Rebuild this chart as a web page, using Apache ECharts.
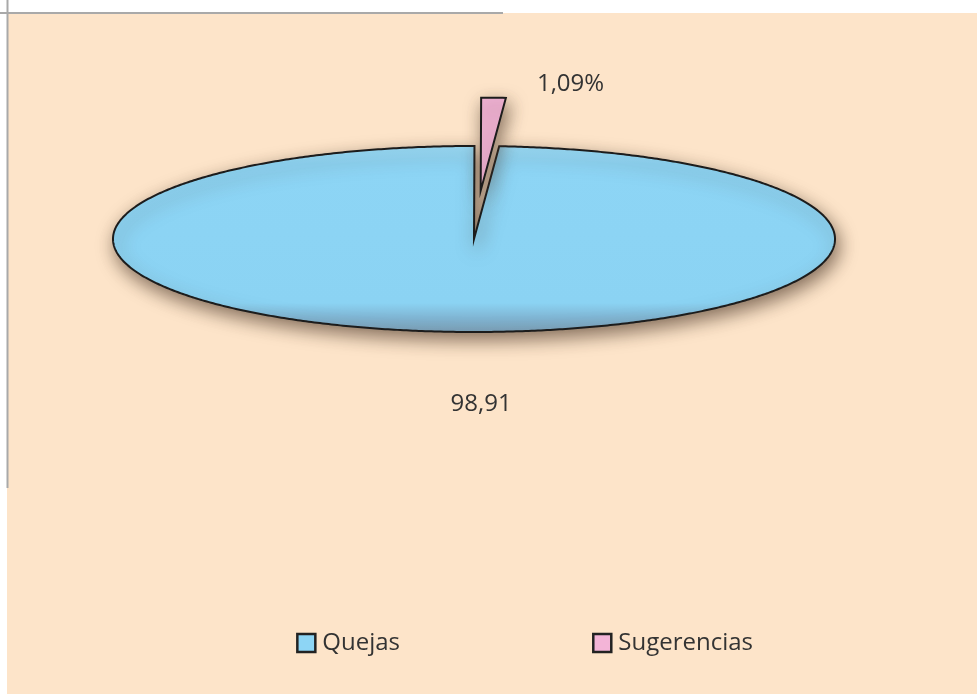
<!DOCTYPE html>
<html>
<head>
<meta charset="utf-8">
<script src="https://cdn.jsdelivr.net/npm/echarts@6/dist/echarts.min.js"></script>
<style>
  html, body { margin: 0; padding: 0; background: #fff; }
  #chart { width: 977px; height: 694px; }
</style>
</head>
<body>
<div id="chart"></div>
<script>
// data
const categories = ['Quejas', 'Sugerencias'];
const values = [98.91, 1.09];
const valueLabels = ['98,91', '1,09%'];

// look
const colors = ['#8dd5f5', '#f3b4d7'];
const explode = [0, 0.52];          // fraction of the radius
const labelOffsets = [[20, 72], [77, -14]];
const startDeg = 4;                 // angle of first slice, clockwise from 12 o'clock
const pie = { cx: 474, cy: 239, rx: 361, ry: 93 };
const fontFamily = '"Open Sans", Lato, sans-serif';
const font = '24px ' + fontFamily;

const total = values.reduce((a, b) => a + b, 0);
const rad = d => d * Math.PI / 180;

function sliceRange(idx) {
  let a = startDeg;
  for (let i = 0; i < idx; i++) a += 360 * values[i] / total;
  return [a, a + 360 * values[idx] / total];
}

function makeRender(idx) {
  return function (params, api) {
    const [a0, a1] = sliceRange(idx);
    const mid = rad((a0 + a1) / 2);
    const ox = pie.rx * explode[idx] * Math.sin(mid);
    const oy = -pie.ry * explode[idx] * Math.cos(mid);
    const cx = pie.cx + ox, cy = pie.cy + oy;
    const pts = [[cx, cy]];
    const steps = Math.max(2, Math.ceil((a1 - a0) / 0.5));
    for (let s = 0; s <= steps; s++) {
      const t = rad(a0 + (a1 - a0) * s / steps);
      pts.push([cx + pie.rx * Math.sin(t), cy - pie.ry * Math.cos(t)]);
    }
    const ax = cx + pie.rx * Math.sin(mid);
    const ay = cy - pie.ry * Math.cos(mid);
    const fill = idx === 0 ? {
      type: 'linear', x: 0, y: 0, x2: 0, y2: 1,
      colorStops: [
        { offset: 0, color: '#9adcf8' },
        { offset: 0.1, color: '#8dd5f5' },
        { offset: 0.84, color: '#8bd3f3' },
        { offset: 0.92, color: '#80b5d3' },
        { offset: 1, color: '#7b9fb6' }
      ]
    } : colors[idx];
    return {
      type: 'group',
      children: [
        {
          type: 'polygon',
          shape: { points: pts },
          style: {
            fill: fill,
            stroke: '#1c1c1c',
            lineWidth: 2,
            lineJoin: 'miter',
            shadowBlur: 18,
            shadowColor: 'rgba(70,50,35,0.65)',
            shadowOffsetX: 3,
            shadowOffsetY: 7
          }
        },
        {
          type: 'text',
          style: {
            text: valueLabels[idx],
            x: ax + labelOffsets[idx][0],
            y: ay + labelOffsets[idx][1],
            fill: '#333',
            font: font,
            align: 'center',
            verticalAlign: 'middle'
          }
        }
      ]
    };
  };
}

const chart = echarts.init(document.getElementById('chart'));
chart.setOption({
  animation: false,
  backgroundColor: '#fde4c9',
  graphic: [
    { type: 'rect', shape: { x: 0, y: 0, width: 977, height: 13 }, style: { fill: '#fff' }, z: -1 },
    { type: 'rect', shape: { x: 0, y: 0, width: 7, height: 694 }, style: { fill: '#fff' }, z: -1 },
    { type: 'line', shape: { x1: 0, y1: 13, x2: 503, y2: 13 }, style: { stroke: '#a9a9a9', lineWidth: 2 } },
    { type: 'line', shape: { x1: 7.5, y1: 0, x2: 7.5, y2: 488 }, style: { stroke: '#a9a9a9', lineWidth: 2 } }
  ],
  legend: {
    data: categories,
    right: 219,
    top: 626,
    icon: 'rect',
    itemWidth: 18,
    itemHeight: 18,
    itemGap: 192,
    textStyle: { fontFamily: fontFamily, fontSize: 24, color: '#333', padding: [0, 0, 0, 2] },
    itemStyle: { borderColor: '#222', borderWidth: 2.5 }
  },
  series: categories.map((name, idx) => ({
    type: 'custom',
    name: name,
    color: colors[idx],
    coordinateSystem: 'none',
    data: [values[idx]],
    renderItem: makeRender(idx)
  }))
});
</script>
</body>
</html>
